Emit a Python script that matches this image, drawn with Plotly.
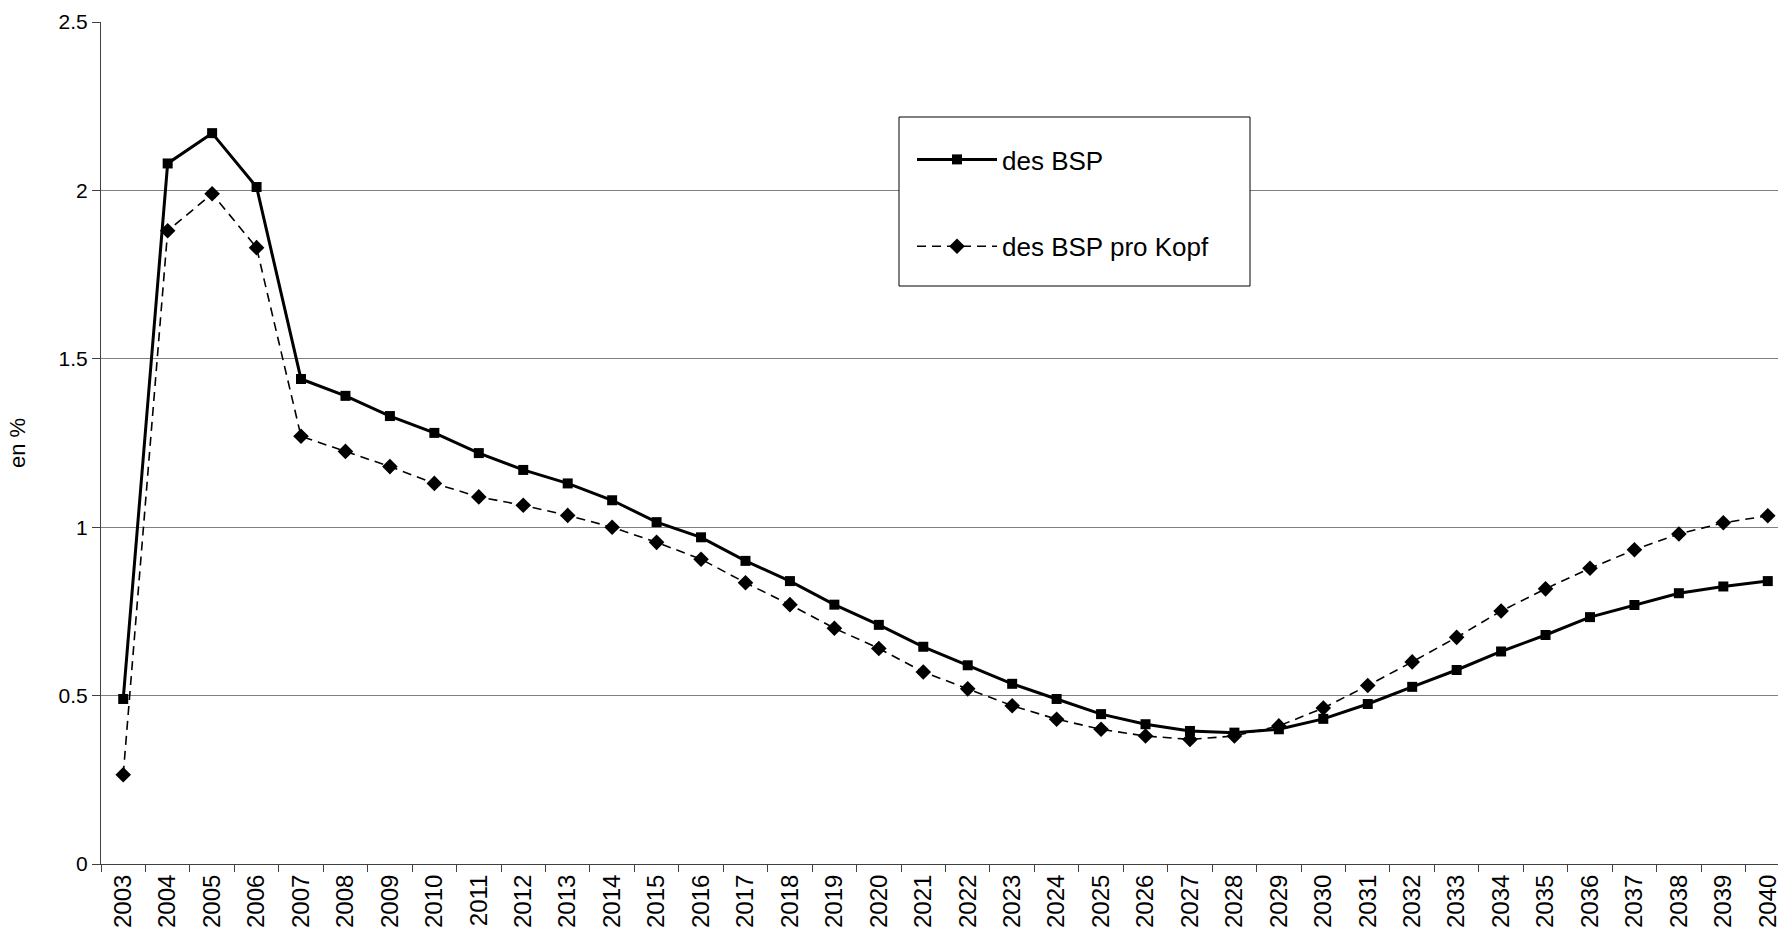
import plotly.graph_objects as go

years = [str(y) for y in range(2003, 2041)]

bsp = [0.49, 2.08, 2.17, 2.01, 1.44, 1.39, 1.33, 1.28, 1.22, 1.17,
       1.13, 1.08, 1.015, 0.97, 0.90, 0.84, 0.77, 0.71, 0.645, 0.59,
       0.535, 0.49, 0.445, 0.415, 0.395, 0.39, 0.40, 0.431, 0.475, 0.526,
       0.576, 0.631, 0.68, 0.733, 0.769, 0.804, 0.824, 0.84]

bsp_kopf = [0.265, 1.88, 1.99, 1.83, 1.27, 1.225, 1.18, 1.13, 1.09, 1.065,
            1.035, 1.00, 0.955, 0.905, 0.835, 0.77, 0.70, 0.64, 0.57, 0.52,
            0.47, 0.43, 0.40, 0.38, 0.37, 0.38, 0.41, 0.463, 0.53, 0.60,
            0.673, 0.751, 0.817, 0.878, 0.933, 0.98, 1.013, 1.034]

series_names = ["des BSP", "des BSP pro Kopf"]
y_title = "en %"

FONT = "Liberation Sans, Arial, sans-serif"

W, H = 1778, 936
L, R, T, B = 101, 0, 22, 72
pw, ph = W - L - R, H - T - B

def px_x(x):
    return (x - L) / pw

def px_y(y):
    return (H - B - y) / ph

fig = go.Figure()
fig.add_trace(go.Scatter(
    x=years, y=bsp, name=series_names[0], mode="lines+markers",
    line=dict(color="black", width=3),
    marker=dict(symbol="square", size=10, color="black"),
    legendgroup="a",
))
fig.add_trace(go.Scatter(
    x=years, y=bsp_kopf, name=series_names[1], mode="lines+markers",
    line=dict(color="black", width=1.6, dash="9px,6px"),
    marker=dict(symbol="diamond", size=12, color="black"),
    legendgroup="b",
))

# legend frame
fig.add_shape(type="rect", xref="paper", yref="paper",
              x0=px_x(899), x1=px_x(1250), y0=px_y(286), y1=px_y(117),
              line=dict(color="black", width=1), fillcolor="white", layer="above")

fig.update_layout(
    width=W, height=H,
    margin=dict(l=L, r=R, t=T, b=B),
    paper_bgcolor="white", plot_bgcolor="white",
    font=dict(family=FONT, color="black", size=20),
    showlegend=True,
    legend=dict(
        x=px_x(912), y=px_y(136), xanchor="left", yanchor="top",
        bgcolor="rgba(0,0,0,0)", borderwidth=0,
        font=dict(family=FONT, size=26, color="black"),
        tracegroupgap=50, itemwidth=80, traceorder="grouped",
    ),
    xaxis=dict(
        type="category", range=[-0.5, 37.23],
        tickangle=-90, tickson="boundaries", ticks="outside", ticklen=7,
        tickcolor="#404040", tickwidth=1,
        showline=True, linecolor="#404040", linewidth=1,
        showgrid=False, zeroline=False,
        tickfont=dict(family=FONT, size=24, color="black"),
        automargin=False,
    ),
    yaxis=dict(
        range=[0, 2.5], dtick=0.5, tick0=0,
        ticks="outside", ticklen=8, tickcolor="#404040",
        showline=True, linecolor="#404040", linewidth=1,
        showgrid=True, gridcolor="#808080", gridwidth=1,
        zeroline=False,
        tickfont=dict(family=FONT, size=21, color="black"),
        title=dict(text=y_title, standoff=26, font=dict(family=FONT, size=22)),
        automargin=False,
    ),
)

fig.write_html(
    "out.html",
    config={"displayModeBar": False},
    post_script="document.body.style.margin='0px';document.body.style.overflow='hidden';",
)
